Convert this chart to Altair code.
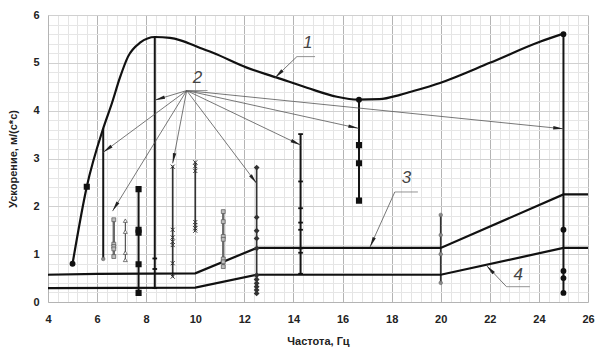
import math
import altair as alt
import pandas as pd

# ---------------- data ----------------
# curve 1 (upper envelope)
curve1_x = [5.0, 5.58, 6.25, 6.6, 6.93, 7.26, 7.75, 8.36, 8.97, 9.4, 10.2, 10.72, 12.1,
            13.33, 14.55, 15.77, 16.63, 17.5, 18.34, 18.75, 19.97, 22.0, 24.04, 25.0]
curve1_y = [0.8, 2.41, 3.63, 4.15, 4.69, 5.13, 5.42, 5.54, 5.52, 5.47, 5.31, 5.21, 4.9,
            4.69, 4.48, 4.29, 4.23, 4.24, 4.33, 4.39, 4.58, 5.0, 5.44, 5.61]
# curve 3 and curve 4 (lower limits)
curve3_x = [4.0, 6.0, 10.0, 12.5, 20.0, 25.0, 26.0]
curve3_y = [0.57, 0.59, 0.6, 1.13, 1.13, 2.25, 2.25]
curve4_x = [4.0, 10.0, 12.5, 20.0, 25.0, 26.0]
curve4_y = [0.29, 0.3, 0.57, 0.57, 1.13, 1.13]

# vertical measurement ranges
range_x = [6.25, 6.68, 7.15, 7.69, 8.35, 9.08, 10.0, 11.14, 12.5, 14.29, 16.67, 20.0, 25.0]
range_lo = [0.9, 0.95, 0.87, 0.19, 0.27, 0.52, 1.48, 0.74, 0.18, 0.59, 2.12, 0.40, 0.19]
range_hi = [3.63, 1.72, 1.70, 2.36, 5.53, 2.85, 2.93, 1.90, 2.81, 3.51, 4.23, 1.82, 5.60]

# markers
gray_dot_x = [6.25, 20.0, 20.0, 20.0, 20.0]
gray_dot_y = [0.9, 1.82, 1.40, 1.0, 0.40]
gray_sq_x = [6.68] * 5 + [11.14] * 7
gray_sq_y = [1.72, 1.21, 1.16, 1.11, 0.95, 1.89, 1.68, 1.37, 1.31, 0.90, 0.84, 0.74]
tri_x = [7.15] * 4
tri_y = [1.70, 1.47, 1.03, 0.88]
black_sq_x = [5.58, 7.69, 7.69, 7.69, 7.69, 7.69, 16.67, 16.67, 16.67]
black_sq_y = [2.41, 2.36, 1.51, 1.45, 0.79, 0.19, 3.28, 2.90, 2.12]
black_dot_x = [5.0, 16.67, 25.0, 25.0, 25.0, 25.0, 25.0]
black_dot_y = [0.8, 4.23, 5.6, 1.51, 0.65, 0.50, 0.19]
cross_x = [9.08] * 7 + [10.0] * 7
cross_y = [2.83, 1.51, 1.35, 1.26, 1.19, 0.81, 0.53, 2.92, 2.84, 2.74, 1.67, 1.61, 1.54, 1.49]
dash_x = [8.35] * 3 + [14.29] * 8
dash_y = [0.91, 0.69, 0.29, 3.51, 2.52, 1.96, 1.66, 1.51, 1.12, 1.03, 0.59]
diam_x = [12.5] * 11
diam_y = [2.81, 1.77, 1.49, 1.33, 1.12, 0.56, 0.47, 0.39, 0.32, 0.25, 0.18]

# callout "2": arrows from one origin
arrow_x0 = 9.65
arrow_y0 = 4.42
arrow_tx = [6.25, 6.63, 8.35, 9.08, 12.5, 14.29, 16.65, 25.0]
arrow_ty = [3.13, 1.90, 4.22, 2.90, 2.48, 3.28, 3.63, 3.62]

# callout labels
label_text = ["1", "2", "3", "4"]
label_x = [14.58, 10.09, 18.6, 23.16]
label_y = [5.41, 4.68, 2.59, 0.565]
ul_x1 = [14.14, 9.65, 18.13, 22.68]
ul_x2 = [14.88, 10.5, 19.07, 23.63]
ul_y = [5.13, 4.42, 2.30, 0.32]
leader_x0 = [14.14, 18.13, 22.68]
leader_y0 = [5.13, 2.30, 0.32]
leader_x1 = [13.25, 17.12, 21.87]
leader_y1 = [4.69, 1.15, 0.76]

x_grid = [round(4 + 0.4 * i, 1) for i in range(56)]
y_grid = [round(0.2 * i, 1) for i in range(31)]

# ---------------- chart ----------------
W, H = 540, 287
PX = W / 22.0
PY = H / 6.0
FONT = "Liberation Sans"

xaxis = alt.Axis(
    values=x_grid, grid=True,
    gridColor={"condition": {"test": "abs(datum.value - 2*round(datum.value/2)) < 0.01",
                             "value": "#b4b4b4"}, "value": "#e4e4e4"},
    ticks=False, domainColor="#b4b4b4",
    labelExpr="abs(datum.value - 2*round(datum.value/2)) < 0.01 ? format(round(datum.value), 'd') : ''",
    labelOverlap=False, labelFlush=False, labelFont=FONT, labelFontWeight="bold",
    labelFontSize=11, labelColor="#222", labelPadding=11,
    title="Частота, Гц", titleFont=FONT, titleFontWeight="bold", titleFontSize=11,
    titleColor="#222", titlePadding=11)
yaxis = alt.Axis(
    values=y_grid, grid=True,
    gridColor={"condition": {"test": "abs(datum.value - round(datum.value)) < 0.01",
                             "value": "#d0d0d0"}, "value": "#e6e6e6"},
    ticks=False, domainColor="#b4b4b4",
    labelExpr="abs(datum.value - round(datum.value)) < 0.01 ? format(round(datum.value), 'd') : ''",
    labelOverlap=False, labelFlush=False, labelFont=FONT, labelFontWeight="bold",
    labelFontSize=11, labelColor="#222", labelPadding=9,
    title="Ускорение, м/(с*с)", titleFont=FONT, titleFontWeight="bold", titleFontSize=11,
    titleColor="#222", titlePadding=14)

xs = alt.Scale(domain=[4, 26], nice=False, zero=False)
ys = alt.Scale(domain=[0, 6], nice=False, zero=False)
X = alt.X("x:Q", scale=xs, axis=xaxis)
Y = alt.Y("y:Q", scale=ys, axis=yaxis)


def angle(x0, y0, x1, y1):
    dx = (x1 - x0) * PX
    dy = -(y1 - y0) * PY
    return math.degrees(math.atan2(dx, -dy)) % 360


ARROW = "M0,0L0.17,1L-0.17,1Z"

layers = []

# axes/grid carrier
layers.append(alt.Chart(pd.DataFrame({"x": [4.0], "y": [0.0]})).mark_point(opacity=0).encode(x=X, y=Y))

# vertical ranges
rng = pd.DataFrame({"x": range_x, "y": range_lo, "y2": range_hi})
groups = [([0, 3, 4, 9, 10, 12], "#151515", 2.0),
          ([5, 6, 8, 11], "#333333", 1.7),
          ([1, 7], "#6a6a6a", 2.4),
          ([2], "#333333", 1.0)]
for idx, col, sw in groups:
    layers.append(alt.Chart(rng.iloc[idx]).mark_rule(color=col, strokeWidth=sw).encode(
        x=X, y=Y, y2=alt.Y2("y2:Q")))

# curves
layers.append(alt.Chart(pd.DataFrame({"x": curve1_x, "y": curve1_y})).mark_line(
    color="#111", strokeWidth=2.2, interpolate="monotone").encode(x=X, y=Y))
for cx, cy in [(curve3_x, curve3_y), (curve4_x, curve4_y)]:
    layers.append(alt.Chart(pd.DataFrame({"x": cx, "y": cy})).mark_line(
        color="#111", strokeWidth=2.2).encode(x=X, y=Y))

# arrows of callout 2
arr = pd.DataFrame({"x": [arrow_x0] * len(arrow_tx), "y": [arrow_y0] * len(arrow_tx),
                    "x2": arrow_tx, "y2": arrow_ty})
layers.append(alt.Chart(arr).mark_rule(color="#555", strokeWidth=0.8).encode(
    x=X, y=Y, x2=alt.X2("x2:Q"), y2=alt.Y2("y2:Q")))
heads = pd.DataFrame({"x": arrow_tx, "y": arrow_ty,
                      "a": [angle(arrow_x0, arrow_y0, tx, ty) for tx, ty in zip(arrow_tx, arrow_ty)]})
# leaders
lead = pd.DataFrame({"x": leader_x0, "y": leader_y0, "x2": leader_x1, "y2": leader_y1})
layers.append(alt.Chart(lead).mark_rule(color="#555", strokeWidth=0.8).encode(
    x=X, y=Y, x2=alt.X2("x2:Q"), y2=alt.Y2("y2:Q")))
lheads = pd.DataFrame({"x": leader_x1, "y": leader_y1,
                       "a": [angle(a, b, c, d) for a, b, c, d in zip(leader_x0, leader_y0, leader_x1, leader_y1)]})
allheads = pd.concat([heads, lheads], ignore_index=True)
layers.append(alt.Chart(allheads).mark_point(shape=ARROW, filled=True, color="#222", size=420,
                                             opacity=1).encode(
    x=X, y=Y, angle=alt.Angle("a:Q", scale=None)))
# underlines
ul = pd.DataFrame({"x": ul_x1, "x2": ul_x2, "y": ul_y})
layers.append(alt.Chart(ul).mark_rule(color="#777", strokeWidth=0.8).encode(
    x=X, y=Y, x2=alt.X2("x2:Q")))
# label numbers
lab = pd.DataFrame({"x": label_x, "y": label_y, "t": label_text})
layers.append(alt.Chart(lab).mark_text(font=FONT, fontStyle="italic", fontSize=17,
                                       color="#444").encode(x=X, y=Y, text="t:N"))

# markers
def pts(xv, yv, **kw):
    return alt.Chart(pd.DataFrame({"x": xv, "y": yv})).mark_point(opacity=1, **kw).encode(x=X, y=Y)

layers.append(pts(gray_dot_x, gray_dot_y, shape="circle", filled=True, fill="#8a8a8a",
                  stroke="#666", strokeWidth=0.6, size=13))
layers.append(pts(gray_sq_x, gray_sq_y, shape="square", filled=True, fill="#bdbdbd",
                  stroke="#555", strokeWidth=0.7, size=15))
layers.append(pts(tri_x, tri_y, shape="triangle-up", filled=True, fill="white",
                  stroke="#444", strokeWidth=0.7, size=16))
layers.append(pts(black_sq_x, black_sq_y, shape="square", filled=True, fill="#111",
                  stroke="#111", size=17))
layers.append(pts(black_dot_x, black_dot_y, shape="circle", filled=True, fill="#111",
                  stroke="#111", size=15))
layers.append(pts(cross_x, cross_y, shape="M-1,-1L1,1M1,-1L-1,1", filled=False,
                  stroke="#333", strokeWidth=1.0, size=16))
layers.append(pts(dash_x, dash_y, shape="stroke", filled=False, stroke="#111",
                  strokeWidth=1.8, size=22))
layers.append(pts(diam_x, diam_y, shape="diamond", filled=True, fill="#333",
                  stroke="#333", size=9))

chart = alt.layer(*layers).properties(
    width=W, height=H, autosize="none",
    padding={"left": 40, "top": 7, "right": 7, "bottom": 54},
    background="white",
).configure_view(stroke=None)

chart.save("out.html", embed_options={"renderer": "svg", "actions": False})
